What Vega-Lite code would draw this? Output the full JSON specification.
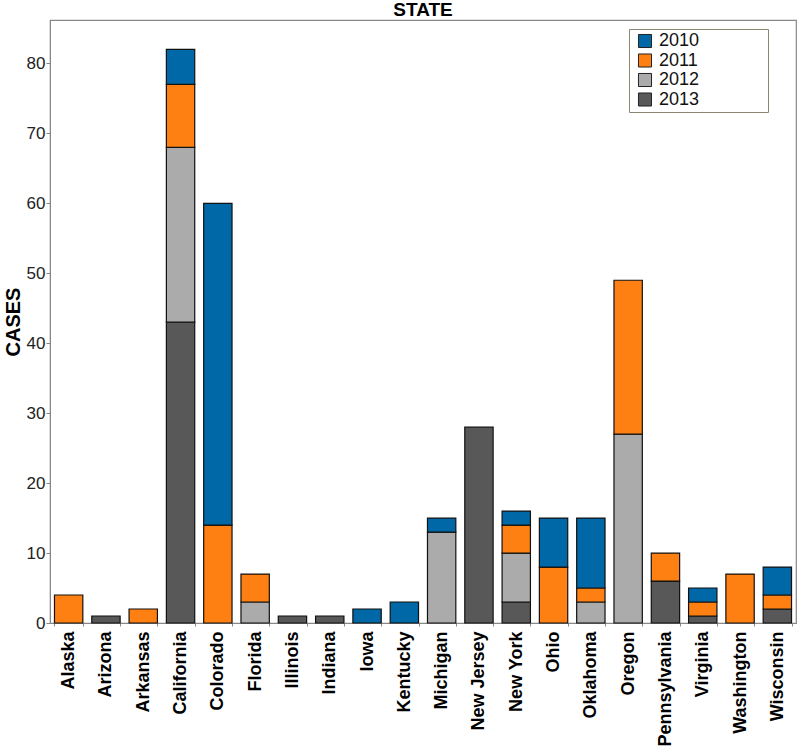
{
  "$schema": "https://vega.github.io/schema/vega-lite/v6.json",
  "autosize": {"type": "none"},
  "padding": {"left": 50, "top": 20, "right": 3, "bottom": 128},
  "width": 746,
  "height": 603,
  "background": "white",
  "title": {"text": "STATE", "fontSize": 19, "font": "Liberation Sans", "fontWeight": "bold", "color": "#000", "offset": 1, "dy": 1, "anchor": "middle"},
  "config": {
    "view": {"stroke": "#888", "strokeWidth": 1.2},
    "font": "Liberation Sans"
  },
  "data": {"values": [
    {"state": "Alaska", "year": "2011", "cases": 4},
    {"state": "Arizona", "year": "2013", "cases": 1},
    {"state": "Arkansas", "year": "2011", "cases": 2},
    {"state": "California", "year": "2013", "cases": 43},
    {"state": "California", "year": "2012", "cases": 25},
    {"state": "California", "year": "2011", "cases": 9},
    {"state": "California", "year": "2010", "cases": 5},
    {"state": "Colorado", "year": "2011", "cases": 14},
    {"state": "Colorado", "year": "2010", "cases": 46},
    {"state": "Florida", "year": "2012", "cases": 3},
    {"state": "Florida", "year": "2011", "cases": 4},
    {"state": "Illinois", "year": "2013", "cases": 1},
    {"state": "Indiana", "year": "2013", "cases": 1},
    {"state": "Iowa", "year": "2010", "cases": 2},
    {"state": "Kentucky", "year": "2010", "cases": 3},
    {"state": "Michigan", "year": "2012", "cases": 13},
    {"state": "Michigan", "year": "2010", "cases": 2},
    {"state": "New Jersey", "year": "2013", "cases": 28},
    {"state": "New York", "year": "2013", "cases": 3},
    {"state": "New York", "year": "2012", "cases": 7},
    {"state": "New York", "year": "2011", "cases": 4},
    {"state": "New York", "year": "2010", "cases": 2},
    {"state": "Ohio", "year": "2011", "cases": 8},
    {"state": "Ohio", "year": "2010", "cases": 7},
    {"state": "Oklahoma", "year": "2012", "cases": 3},
    {"state": "Oklahoma", "year": "2011", "cases": 2},
    {"state": "Oklahoma", "year": "2010", "cases": 10},
    {"state": "Oregon", "year": "2012", "cases": 27},
    {"state": "Oregon", "year": "2011", "cases": 22},
    {"state": "Pennsylvania", "year": "2013", "cases": 6},
    {"state": "Pennsylvania", "year": "2011", "cases": 4},
    {"state": "Virginia", "year": "2013", "cases": 1},
    {"state": "Virginia", "year": "2011", "cases": 2},
    {"state": "Virginia", "year": "2010", "cases": 2},
    {"state": "Washington", "year": "2011", "cases": 7},
    {"state": "Wisconsin", "year": "2013", "cases": 2},
    {"state": "Wisconsin", "year": "2011", "cases": 2},
    {"state": "Wisconsin", "year": "2010", "cases": 4}
  ]},
  "mark": {"type": "bar", "stroke": "#111", "strokeWidth": 1.2},
  "encoding": {
    "x": {
      "field": "state", "type": "nominal", "sort": "ascending",
      "scale": {"paddingInner": 0.24, "paddingOuter": 0.12},
      "axis": {
        "title": null, "labelAngle": -90, "labelFontSize": 18, "labelFontWeight": "bold",
        "labelColor": "#000", "labelPadding": 5, "tickBand": "extent", "tickSize": 3,
        "tickColor": "#888", "domainColor": "#888", "labelBaseline": "middle", "labelAlign": "right"
      }
    },
    "y": {
      "field": "cases", "type": "quantitative", "aggregate": "sum", "stack": "zero",
      "scale": {"domain": [0, 86.2], "nice": false},
      "axis": {
        "title": "CASES", "titleFontSize": 20, "titleFontWeight": "bold", "titleColor": "#000",
        "titlePadding": 3, "grid": false, "values": [0, 10, 20, 30, 40, 50, 60, 70, 80],
        "labelFontSize": 17, "labelColor": "#222", "tickSize": 4, "tickColor": "#888",
        "domainColor": "#888", "labelPadding": 1
      }
    },
    "color": {
      "field": "year", "type": "nominal",
      "scale": {"domain": ["2010", "2011", "2012", "2013"], "range": ["#0068A6", "#FF8012", "#ABABAB", "#585858"]},
      "legend": {
        "title": null, "orient": "none", "legendX": 579, "legendY": 9,
        "direction": "vertical", "symbolType": "square", "symbolSize": 170,
        "symbolStrokeColor": "#222", "symbolStrokeWidth": 1, "labelFontSize": 18, "labelColor": "#111",
        "labelExpr": "datum.label + '\u2800\u2800\u2800\u2800\u2800'",
        "labelLimit": 300,
        "strokeColor": "#8a8470", "padding": 3, "rowPadding": 1.5, "labelOffset": 5,
        "symbolOffset": 4, "fillColor": "white"
      }
    },
    "order": {"field": "year", "sort": "descending"}
  }
}
